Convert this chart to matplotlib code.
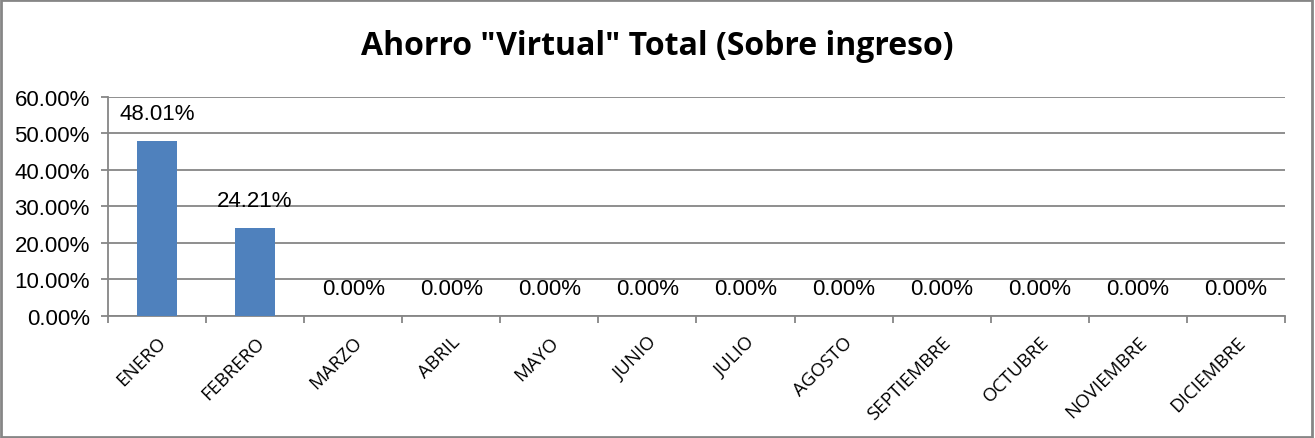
import matplotlib
matplotlib.use("Agg")
import matplotlib.pyplot as plt
from matplotlib.patches import Rectangle

# datos
meses = ["ENERO", "FEBRERO", "MARZO", "ABRIL", "MAYO", "JUNIO", "JULIO",
         "AGOSTO", "SEPTIEMBRE", "OCTUBRE", "NOVIEMBRE", "DICIEMBRE"]
ahorro = [48.01, 24.21, 0, 0, 0, 0, 0, 0, 0, 0, 0, 0]
y_ticks = [0, 10, 20, 30, 40, 50, 60]

fig = plt.figure(figsize=(13.15, 4.39), dpi=100)
ax = fig.add_axes([0.0821, 0.278, 0.895, 0.499])

x = range(len(meses))
ax.bar(x, ahorro, width=0.4, color="#4f81bd", zorder=3)

ax.set_xlim(-0.5, len(meses) - 0.5)
ax.set_ylim(0, 60)
ax.set_yticks(y_ticks)
ax.set_yticklabels([f"{v:.2f}%" for v in y_ticks], fontsize=16,
                   family="Liberation Sans")
ax.yaxis.grid(True, color="#868686", linewidth=1.3, zorder=0)
ax.tick_params(axis="y", length=5, color="#868686", width=1.3, pad=8)

# ticks between categories
ax.set_xticks([i - 0.5 for i in range(len(meses) + 1)], minor=False)
ax.set_xticklabels([])
ax.tick_params(axis="x", length=5, color="#868686", width=1.3)
ax.set_xticks(list(x), minor=True)
ax.set_xticklabels(meses, minor=True, rotation=45, ha="right",
                   rotation_mode="anchor", fontsize=13.5, family="Open Sans")
ax.tick_params(axis="x", which="minor", length=0, pad=12)

for s in ["top", "right"]:
    ax.spines[s].set_visible(False)
for s in ["left", "bottom"]:
    ax.spines[s].set_color("#868686")
    ax.spines[s].set_linewidth(1.3)

for i, v in enumerate(ahorro):
    ax.annotate(f"{v:.2f}%", (i, v), xytext=(0, 27), textcoords="offset pixels",
                ha="center", va="center", fontsize=16, family="Liberation Sans")

fig.text(0.5, 0.893, 'Ahorro "Virtual" Total (Sobre ingreso)', ha="center",
         va="center", fontsize=23, fontweight="bold", family="Open Sans")

fig.patches.append(Rectangle((0.001, 0.002), 0.997, 0.995, transform=fig.transFigure,
                             fill=False, edgecolor="#868686", linewidth=2))

fig.savefig("out.png", dpi=100)
